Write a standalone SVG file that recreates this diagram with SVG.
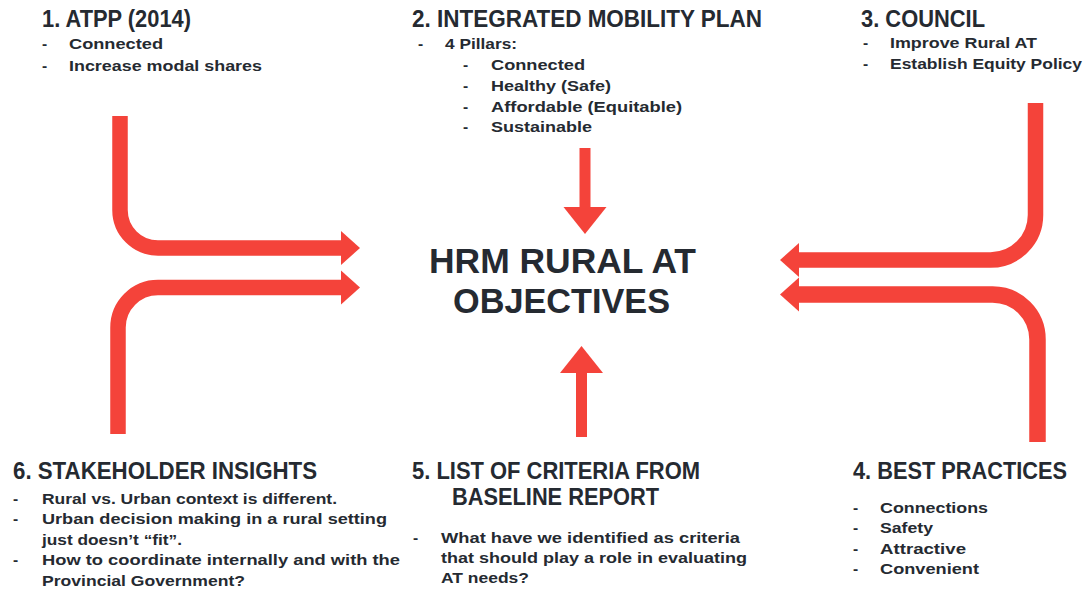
<svg xmlns="http://www.w3.org/2000/svg" width="1088" height="592" viewBox="0 0 1088 592">
  <style>
    text { font-family: "Liberation Sans", "Open Sans", sans-serif; fill: #252a31; font-weight: 700; }
    .h { font-size: 23px; }
    .b { font-size: 15.5px; }
    .title { font-size: 35px; }
    .shaft { fill: none; stroke: #f4433a; stroke-width: 15.5; }
    .vshaft { fill: none; stroke: #f4433a; stroke-width: 11; }
    .head { fill: #f4433a; }
  </style>
  <defs>
    <marker id="sideHead" markerUnits="userSpaceOnUse" markerWidth="20" markerHeight="36" refX="1" refY="17" orient="auto" overflow="visible">
      <path class="head" d="M0,0 L19,17 L0,34 Z"/>
    </marker>
    <marker id="vertHead" markerUnits="userSpaceOnUse" markerWidth="28" markerHeight="44" refX="1" refY="21.5" orient="auto" overflow="visible">
      <path class="head" d="M0,0 L27,21.5 L0,43 Z"/>
    </marker>
  </defs>
  <rect width="1088" height="592" fill="#ffffff"/>

  <!-- connectors -->
  <g id="connectors">
    <path class="shaft" d="M120,116 V210 A38,38 0 0 0 158,248 H342" marker-end="url(#sideHead)"/>
    <path class="shaft" d="M118,434 V327.5 A40,40 0 0 1 158,287.5 H342" marker-end="url(#sideHead)"/>
    <path class="shaft" d="M1035.5,103 V215 A45,45 0 0 1 990.5,260 H798" marker-end="url(#sideHead)"/>
    <path class="shaft" style="stroke-width:16.5" d="M1037.5,442 V339.5 A45,45 0 0 0 992.5,294.5 H798" marker-end="url(#sideHead)"/>
    <path class="vshaft" d="M585,148 V208" marker-end="url(#vertHead)"/>
    <path class="vshaft" d="M581.5,437 V372" marker-end="url(#vertHead)"/>
  </g>

  <!-- central objective -->
  <g id="objectives">
    <text class="title" x="429" y="273" textLength="267" lengthAdjust="spacingAndGlyphs">HRM RURAL AT</text>
    <text class="title" x="453" y="313" textLength="217" lengthAdjust="spacingAndGlyphs">OBJECTIVES</text>
  </g>

  <!-- 1. ATPP -->
  <g id="atpp">
    <text class="h" x="42" y="27" textLength="149" lengthAdjust="spacingAndGlyphs">1. ATPP (2014)</text>
    <text class="b" x="42" y="49">-</text>
    <text class="b" x="69" y="49" textLength="94" lengthAdjust="spacingAndGlyphs">Connected</text>
    <text class="b" x="42" y="71">-</text>
    <text class="b" x="69" y="71" textLength="193" lengthAdjust="spacingAndGlyphs">Increase modal shares</text>
  </g>

  <!-- 2. Integrated Mobility Plan -->
  <g id="mobility-plan">
    <text class="h" x="412" y="27" textLength="350" lengthAdjust="spacingAndGlyphs">2. INTEGRATED MOBILITY PLAN</text>
    <text class="b" x="418" y="49">-</text>
    <text class="b" x="445" y="49" textLength="72" lengthAdjust="spacingAndGlyphs">4 Pillars:</text>
    <text class="b" x="463" y="70">-</text>
    <text class="b" x="491" y="70" textLength="94" lengthAdjust="spacingAndGlyphs">Connected</text>
    <text class="b" x="463" y="91">-</text>
    <text class="b" x="491" y="91" textLength="120" lengthAdjust="spacingAndGlyphs">Healthy (Safe)</text>
    <text class="b" x="463" y="112">-</text>
    <text class="b" x="491" y="112" textLength="191" lengthAdjust="spacingAndGlyphs">Affordable (Equitable)</text>
    <text class="b" x="463" y="132">-</text>
    <text class="b" x="491" y="132" textLength="101" lengthAdjust="spacingAndGlyphs">Sustainable</text>
  </g>

  <!-- 3. Council -->
  <g id="council">
    <text class="h" x="861" y="27" textLength="124" lengthAdjust="spacingAndGlyphs">3. COUNCIL</text>
    <text class="b" x="863" y="48">-</text>
    <text class="b" x="890" y="48" textLength="147" lengthAdjust="spacingAndGlyphs">Improve Rural AT</text>
    <text class="b" x="863" y="69">-</text>
    <text class="b" x="890" y="69" textLength="192" lengthAdjust="spacingAndGlyphs">Establish Equity Policy</text>
  </g>

  <!-- 4. Best Practices -->
  <g id="best-practices">
    <text class="h" x="853" y="479" textLength="214" lengthAdjust="spacingAndGlyphs">4. BEST PRACTICES</text>
    <text class="b" x="853" y="513">-</text>
    <text class="b" x="880" y="513" textLength="108" lengthAdjust="spacingAndGlyphs">Connections</text>
    <text class="b" x="853" y="533">-</text>
    <text class="b" x="880" y="533" textLength="53" lengthAdjust="spacingAndGlyphs">Safety</text>
    <text class="b" x="853" y="554">-</text>
    <text class="b" x="880" y="554" textLength="86" lengthAdjust="spacingAndGlyphs">Attractive</text>
    <text class="b" x="853" y="574">-</text>
    <text class="b" x="880" y="574" textLength="99" lengthAdjust="spacingAndGlyphs">Convenient</text>
  </g>

  <!-- 5. Criteria -->
  <g id="criteria">
    <text class="h" x="412" y="479" textLength="288" lengthAdjust="spacingAndGlyphs">5. LIST OF CRITERIA FROM</text>
    <text class="h" x="452" y="505" textLength="207" lengthAdjust="spacingAndGlyphs">BASELINE REPORT</text>
    <text class="b" x="413" y="543">-</text>
    <text class="b" x="441" y="543" textLength="299" lengthAdjust="spacingAndGlyphs">What have we identified as criteria</text>
    <text class="b" x="441" y="563" textLength="306" lengthAdjust="spacingAndGlyphs">that should play a role in evaluating</text>
    <text class="b" x="441" y="583" textLength="88" lengthAdjust="spacingAndGlyphs">AT needs?</text>
  </g>

  <!-- 6. Stakeholder Insights -->
  <g id="stakeholder-insights">
    <text class="h" x="13" y="479" textLength="304" lengthAdjust="spacingAndGlyphs">6. STAKEHOLDER INSIGHTS</text>
    <text class="b" x="13" y="504">-</text>
    <text class="b" x="42" y="504" textLength="295" lengthAdjust="spacingAndGlyphs">Rural vs. Urban context is different.</text>
    <text class="b" x="13" y="524">-</text>
    <text class="b" x="42" y="524" textLength="345" lengthAdjust="spacingAndGlyphs">Urban decision making in a rural setting</text>
    <text class="b" x="42" y="545" textLength="140" lengthAdjust="spacingAndGlyphs">just doesn’t “fit”.</text>
    <text class="b" x="13" y="565">-</text>
    <text class="b" x="42" y="565" textLength="358" lengthAdjust="spacingAndGlyphs">How to coordinate internally and with the</text>
    <text class="b" x="42" y="586" textLength="203" lengthAdjust="spacingAndGlyphs">Provincial Government?</text>
  </g>
</svg>
